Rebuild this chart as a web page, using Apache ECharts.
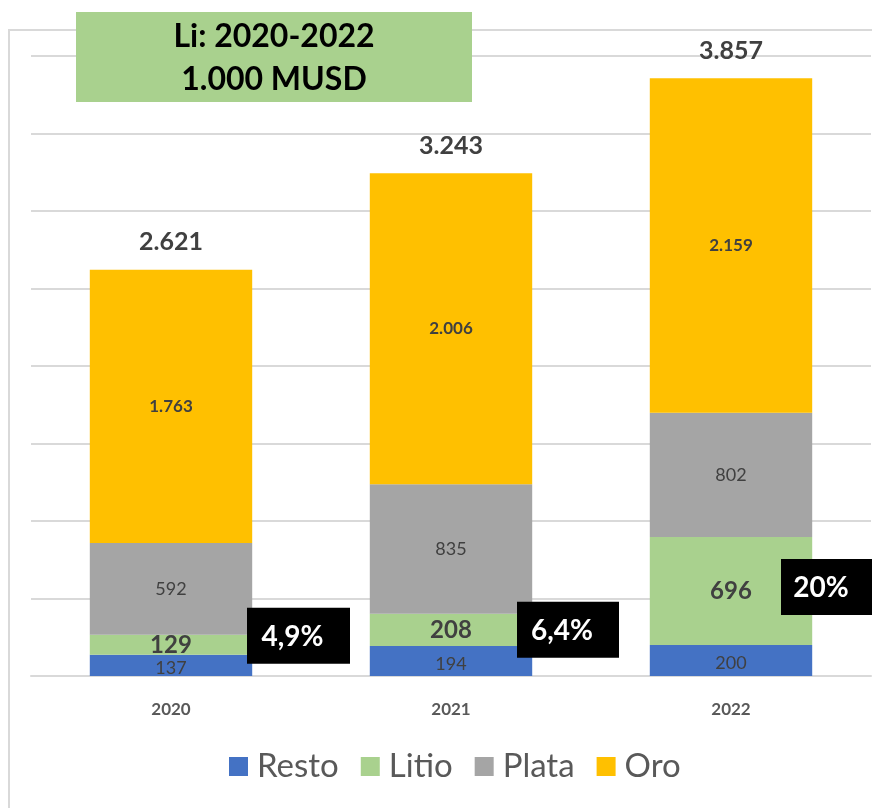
<!DOCTYPE html>
<html>
<head>
<meta charset="utf-8">
<script src="https://cdn.jsdelivr.net/npm/echarts@6/dist/echarts.min.js"></script>
<style>
html, body { margin: 0; padding: 0; background: #fff; }
#chart { width: 872px; height: 808px; }
</style>
</head>
<body>
<div id="chart"></div>
<script>
// datos (millones USD)
const years = ['2020', '2021', '2022']
const resto = [137, 194, 200]
const litio = [129, 208, 696]
const plata = [592, 835, 802]
const oro = [1763, 2006, 2159]
const totals = [2621, 3243, 3857]
const litioShare = ['4,9%', '6,4%', '20%']

const fmt = v => v >= 1000 ? String(v).replace(/(\d)(\d{3})$/, '$1.$2') : String(v)
const FONT = 'Lato'

const chart = echarts.init(document.getElementById('chart'))

const option = {
  animation: false,
  textStyle: { fontFamily: FONT },
  grid: { left: 31, right: 1, top: 56, bottom: 132 },
  legend: {
    data: ['Resto', 'Litio', 'Plata', 'Oro'],
    bottom: 20,
    left: 224,
    icon: 'rect',
    itemWidth: 19,
    itemHeight: 19,
    itemGap: 22,
    textStyle: { fontSize: 33, color: '#595959', fontFamily: FONT, padding: [0, 0, 0, 4] }
  },
  xAxis: {
    type: 'category',
    data: years,
    axisTick: { show: false },
    axisLine: { lineStyle: { color: '#d9d9d9', width: 2 } },
    axisLabel: { fontSize: 17, fontWeight: 'bold', color: '#595959', margin: 25 }
  },
  yAxis: {
    type: 'value',
    min: 0,
    max: 4000,
    interval: 500,
    axisLabel: { show: false },
    axisLine: { show: false },
    splitLine: { lineStyle: { color: '#d9d9d9', width: 2 } }
  },
  series: [
    {
      name: 'Resto', type: 'bar', stack: 'a', barWidth: '58%',
      itemStyle: { color: '#4472c4' },
      label: { show: true, position: 'inside', fontSize: 18, color: '#404040', formatter: p => fmt(p.value), offset: [0, 3] },
      data: resto
    },
    {
      name: 'Litio', type: 'bar', stack: 'a',
      itemStyle: { color: '#a9d18e' },
      label: { show: true, position: 'inside', fontSize: 24, fontWeight: 'bold', color: '#404040', formatter: p => fmt(p.value) },
      data: litio
    },
    {
      name: 'Plata', type: 'bar', stack: 'a',
      itemStyle: { color: '#a5a5a5' },
      label: { show: true, position: 'inside', fontSize: 18, color: '#404040', formatter: p => fmt(p.value) },
      data: plata
    },
    {
      name: 'Oro', type: 'bar', stack: 'a',
      itemStyle: { color: '#ffc000' },
      label: { show: true, position: 'inside', fontSize: 17, fontWeight: 'bold', color: '#404040', formatter: p => fmt(p.value) },
      data: oro
    },
    {
      name: 'Total', type: 'bar', stack: 'a',
      itemStyle: { color: 'transparent' },
      label: {
        show: true, position: 'top', distance: 15, fontSize: 25, fontWeight: 'bold', color: '#404040',
        formatter: p => fmt(totals[p.dataIndex])
      },
      data: [0, 0, 0]
    }
  ]
}
chart.setOption(option)

// cajas negras con % de litio, junto al segmento de litio
const boxDx = [-5, -15, -31]   // desplazamiento respecto al borde derecho de la barra
const boxDy = [-9, 0, -4]
const boxW = [103, 102, 92]
const boxes = years.map((y, i) => {
  const mid = resto[i] + litio[i] / 2
  const p = chart.convertToPixel({ seriesIndex: 0 }, [i, mid])
  const x = p[0] + 81 + boxDx[i]
  const cy = p[1] + boxDy[i]
  return {
    type: 'group',
    children: [
      { type: 'rect', shape: { x: x, y: cy - 28, width: boxW[i], height: 56 }, style: { fill: '#000' }, z: 10 },
      {
        type: 'text', x: x + boxW[i] / 2 - 6, y: cy + 1, z: 11,
        style: { text: litioShare[i], fill: '#fff', font: 'bold 28px ' + FONT, align: 'center', verticalAlign: 'middle' }
      }
    ]
  }
})

chart.setOption({
  graphic: [
    { type: 'rect', shape: { x: 9, y: 30, width: 900, height: 800 }, style: { fill: 'none', stroke: '#d9d9d9', lineWidth: 2 }, z: -10 },
    { type: 'rect', shape: { x: 76, y: 12, width: 396, height: 90 }, style: { fill: '#a9d18e' }, z: 10 },
    {
      type: 'text', x: 274, y: 58, z: 11,
      style: { text: 'Li: 2020-2022\n1.000 MUSD', fill: '#000', font: 'bold 32px ' + FONT, align: 'center', verticalAlign: 'middle', lineHeight: 43 }
    }
  ].concat(boxes)
})
</script>
</body>
</html>
